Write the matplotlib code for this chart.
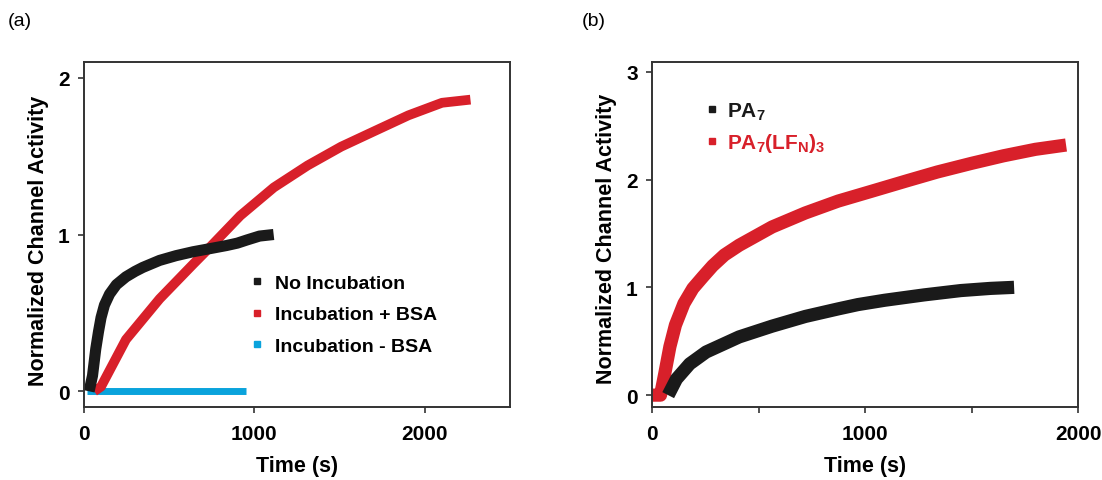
import matplotlib
matplotlib.use("Agg")
import matplotlib.pyplot as plt
from matplotlib.lines import Line2D

plt.rcParams['font.family'] = ['Liberation Sans', 'DejaVu Sans']
plt.rcParams['font.weight'] = 'bold'
plt.rcParams['axes.labelweight'] = 'bold'
plt.rcParams['mathtext.fontset'] = 'custom'
plt.rcParams['mathtext.rm'] = 'Liberation Sans'
plt.rcParams['mathtext.bf'] = 'Liberation Sans:bold'
plt.rcParams['mathtext.default'] = 'bf'

# ---- panel (a) data ----
no_inc_t = [30, 50, 69, 85, 100, 120, 150, 190, 246, 300, 345, 444, 540, 640,
            740, 838, 900, 956, 1030, 1113]
no_inc_y = [0, 0.1, 0.27, 0.38, 0.47, 0.55, 0.62, 0.68, 0.73, 0.765, 0.79, 0.835,
            0.865, 0.89, 0.91, 0.93, 0.945, 0.965, 0.99, 1.0]

bsa_t = [60, 100, 246, 444, 640, 740, 917, 1114, 1312, 1509, 1706, 1904, 2101, 2268]
bsa_y = [0, 0.03, 0.33, 0.59, 0.81, 0.92, 1.12, 1.30, 1.44, 1.56, 1.66, 1.76, 1.84, 1.86]

no_bsa_t = [20, 952]
no_bsa_y = [0, 0]

labels_a = ['No Incubation', 'Incubation + BSA', 'Incubation - BSA']

# ---- panel (b) data ----
pa7_t = [76, 115, 177, 254, 409, 564, 720, 874, 967, 1092, 1278, 1450, 1588, 1700]
pa7_y = [0, 0.15, 0.29, 0.40, 0.54, 0.64, 0.73, 0.80, 0.84, 0.88, 0.93, 0.97, 0.99, 1.0]

lf_t = [0, 40, 60, 84, 110, 150, 192, 240, 285, 340, 409, 564, 720, 874, 1029, 1200,
        1340, 1500, 1650, 1800, 1944]
lf_y = [0, 0, 0.2, 0.45, 0.65, 0.85, 0.99, 1.10, 1.20, 1.30, 1.39, 1.56, 1.69, 1.80,
        1.89, 1.99, 2.07, 2.15, 2.22, 2.28, 2.32]

labels_b = ['PA$_7$', 'PA$_7$(LF$_N$)$_3$']

BLACK = '#1a1a1a'
RED = '#d8202a'
BLUE = '#0aa3dc'
SPINE = '#333333'


def style_axes(ax):
    for spine in ax.spines.values():
        spine.set_color(SPINE)
        spine.set_linewidth(1.4)
    ax.tick_params(which='both', direction='out', length=4.3, width=1.2,
                   color=SPINE, labelsize=15, pad=8)
    ax.tick_params(axis='y', pad=6)


fig = plt.figure(figsize=(11.02, 4.81), dpi=100)

# ---------------- (a) ----------------
ax1 = fig.add_axes([84 / 1102, 1 - 408 / 481, 426 / 1102, 345 / 481])
ax1.plot(no_bsa_t, no_bsa_y, color=BLUE, lw=5, solid_capstyle='butt')
ax1.plot(bsa_t, bsa_y, color=RED, lw=7, solid_capstyle='butt')
ax1.plot(no_inc_t, no_inc_y, color=BLACK, lw=8, solid_capstyle='butt')
ax1.set_xlim(0, 2500)
ax1.set_ylim(-0.1, 2.1)
ax1.set_xticks([0, 1000, 2000])
ax1.set_yticks([0, 1, 2])
style_axes(ax1)
ax1.set_xlabel('Time (s)', fontsize=15.5)
ax1.set_ylabel('Normalized Channel Activity', fontsize=15.5)
ax1.xaxis.set_label_coords(0.5, -0.14)
ax1.yaxis.set_label_coords(-0.082, 0.485)

handles_a = [Line2D([], [], ls='none', marker='s', ms=5, color=c)
             for c in (BLACK, RED, BLUE)]
ax1.legend(handles_a, labels_a, loc='center left', bbox_to_anchor=(0.394, 0.268),
           frameon=False, fontsize=14, handlelength=0.5, handletextpad=0.67,
           borderpad=0, borderaxespad=0, labelspacing=0.72)

# ---------------- (b) ----------------
ax2 = fig.add_axes([652 / 1102, 1 - 408 / 481, 426 / 1102, 345 / 481])
ax2.plot(lf_t, lf_y, color=RED, lw=9.5, solid_capstyle='butt')
ax2.plot(pa7_t, pa7_y, color=BLACK, lw=9.5, solid_capstyle='butt')
ax2.set_xlim(0, 2000)
ax2.set_ylim(-0.11, 3.09)
ax2.set_xticks([0, 1000, 2000])
ax2.set_xticks([500, 1500], minor=True)
ax2.set_yticks([0, 1, 2, 3])
style_axes(ax2)
ax2.set_xlabel('Time (s)', fontsize=15.5)
ax2.set_ylabel('Normalized Channel Activity', fontsize=15.5)
ax2.xaxis.set_label_coords(0.5, -0.14)
ax2.yaxis.set_label_coords(-0.082, 0.49)

handles_b = [Line2D([], [], ls='none', marker='s', ms=5, color=c)
             for c in (BLACK, RED)]
leg = ax2.legend(handles_b, labels_b, loc='center left', bbox_to_anchor=(0.131, 0.81),
                 frameon=False, fontsize=15, handlelength=0.4, handletextpad=0.5,
                 borderpad=0, borderaxespad=0, labelspacing=0.46)
for txt, c in zip(leg.get_texts(), (BLACK, RED)):
    txt.set_color(c)

fig.text(8 / 1102, 1 - 22 / 481, '(a)', fontsize=14, fontweight='normal', va='center')
fig.text(582 / 1102, 1 - 22 / 481, '(b)', fontsize=14, fontweight='normal', va='center')

fig.savefig('out.png', dpi=100)
